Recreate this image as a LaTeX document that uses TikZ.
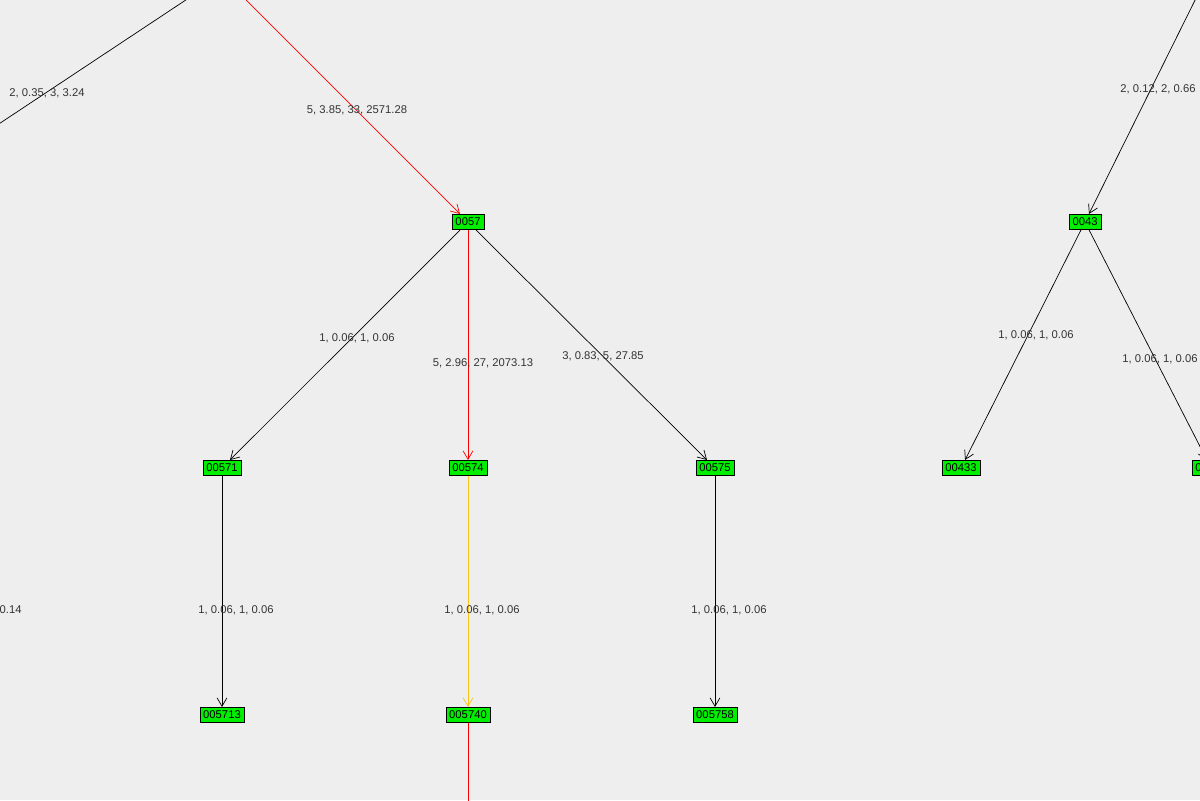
\documentclass[tikz,border=0pt]{standalone}
\usepackage{fontspec}
\setmainfont{Liberation Sans}
\usetikzlibrary{arrows.meta}
\definecolor{bgray}{HTML}{EEEEEE}
\definecolor{vgreen}{HTML}{00EE00}
\definecolor{jorange}{HTML}{F5C518}
\tikzset{
  vert/.style={draw=black,fill=vgreen,inner xsep=2.4pt,inner ysep=1.2pt,minimum height=11pt,font=\fontsize{8}{9}\selectfont},
  lbl/.style={font=\fontsize{8}{9}\selectfont,text=black!80},
  edge/.style={-{Straight Barb[length=6pt,width=7pt]},line width=0.5pt}
}
\begin{document}
\begin{tikzpicture}[x=0.025cm,y=-0.025cm]
    \useasboundingbox (0,0) rectangle (1200,800);
    \fill[bgray] (0,0) rectangle (1200,800);
    \clip (0,0) rectangle (1200,800);
    % hidden parents
    \coordinate (p005) at (222,-24);
    \coordinate (p004) at (1207,-24);
    \coordinate (l004) at (-149,222);
    \coordinate (d0057) at (468,900);
    \node[vert] (n0057) at (468,222) {0057};
    \node[vert] (n0043) at (1085,222) {0043};
    \node[vert] (n00571) at (222,468) {00571};
    \node[vert] (n00574) at (468,468) {00574};
    \node[vert] (n00575) at (715,468) {00575};
    \node[vert] (n00433) at (961,468) {00433};
    \node[vert] (n00435) at (1211,468) {00435};
    \node[vert] (n005713) at (222,715) {005713};
    \node[vert] (n005740) at (468,715) {005740};
    \node[vert] (n005758) at (715,715) {005758};
    % edges
    \draw[edge] (p005) -- (l004) node[lbl] at (47,93) {2, 0.35, 3, 3.24};
    \draw[edge,red] (p005) -- (n0057) node[lbl] at (357,110) {5, 3.85, 33, 2571.28};
    \draw[edge] (p004) -- (n0043) node[lbl] at (1158,89) {2, 0.12, 2, 0.66};
    \draw[edge] (n0057) -- (n00571) node[lbl] at (357,338) {1, 0.06, 1, 0.06};
    \draw[edge,red] (n0057) -- (n00574) node[lbl] at (483,363) {5, 2.96, 27, 2073.13};
    \draw[edge] (n0057) -- (n00575) node[lbl] at (603,356) {3, 0.83, 5, 27.85};
    \draw[edge] (n0043) -- (n00433) node[lbl] at (1036,335) {1, 0.06, 1, 0.06};
    \draw[edge] (n0043) -- (n00435) node[lbl] at (1160,359) {1, 0.06, 1, 0.06};
    \draw[edge] (n00571) -- (n005713) node[lbl] at (236,610) {1, 0.06, 1, 0.06};
    \draw[edge,jorange] (n00574) -- (n005740) node[lbl] at (482,610) {1, 0.06, 1, 0.06};
    \draw[edge] (n00575) -- (n005758) node[lbl] at (729,610) {1, 0.06, 1, 0.06};
    \draw[red,line width=0.5pt] (n005740) -- (d0057);
    \node[lbl] at (-16,610) {2, 0.12, 2, 0.14};
\end{tikzpicture}
\end{document}
